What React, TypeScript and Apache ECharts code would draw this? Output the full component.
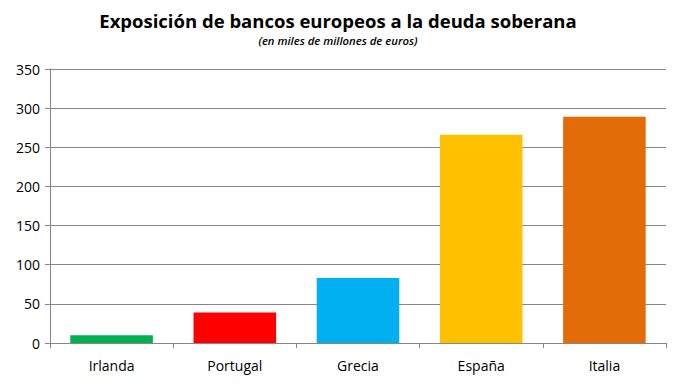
import React, { useEffect, useRef } from "react";
import * as echarts from "echarts";

const categories = ["Irlanda", "Portugal", "Grecia", "España", "Italia"];
const values = [10, 39, 83, 266, 289];
const barColors = ["#00B050", "#FF0000", "#00B0F0", "#FFC000", "#E36C09"];
const yTicks = { min: 0, max: 350, interval: 50 };
const titleText = "Exposición de bancos europeos a la deuda soberana";
const subtitleText = "(en miles de millones de euros)";

export default function App() {
  const ref = useRef<HTMLDivElement>(null);
  useEffect(() => {
    document.body.style.margin = "0";
    const chart = echarts.init(ref.current!, null, { renderer: "svg" });
    const font = "'Open Sans', 'Liberation Sans', sans-serif";
    chart.setOption({
      animation: false,
      backgroundColor: "#ffffff",
      title: {
        text: titleText,
        subtext: subtitleText,
        left: "center",
        top: 6,
        itemGap: 5,
        textStyle: { fontFamily: font, fontSize: 18.5, fontWeight: "bold", color: "#000" },
        subtextStyle: { fontFamily: font, fontSize: 11.3, fontStyle: "italic", fontWeight: 600, color: "#000" },
      },
      grid: { left: 50, right: 10, top: 69, bottom: 46, containLabel: false },
      xAxis: {
        type: "category",
        data: categories,
        axisLine: { lineStyle: { color: "#868686", width: 1 } },
        axisTick: { show: true, alignWithLabel: false, length: 5, lineStyle: { color: "#868686" } },
        axisLabel: { fontFamily: font, fontSize: 14, color: "#000", margin: 15 },
      },
      yAxis: {
        type: "value",
        min: yTicks.min,
        max: yTicks.max,
        interval: yTicks.interval,
        axisLine: { show: true, lineStyle: { color: "#868686", width: 1 } },
        axisTick: { show: true, length: 5, lineStyle: { color: "#868686" } },
        axisLabel: { fontFamily: font, fontSize: 14, color: "#000", margin: 10 },
        splitLine: { show: true, lineStyle: { color: "#868686", width: 1 } },
      },
      series: [
        {
          type: "bar",
          barWidth: "67%",
          data: values.map((v, i) => ({ value: v, itemStyle: { color: barColors[i] } })),
        },
      ],
    });
    return () => chart.dispose();
  }, []);
  return <div ref={ref} style={{ width: 676, height: 389 }} />;
}
